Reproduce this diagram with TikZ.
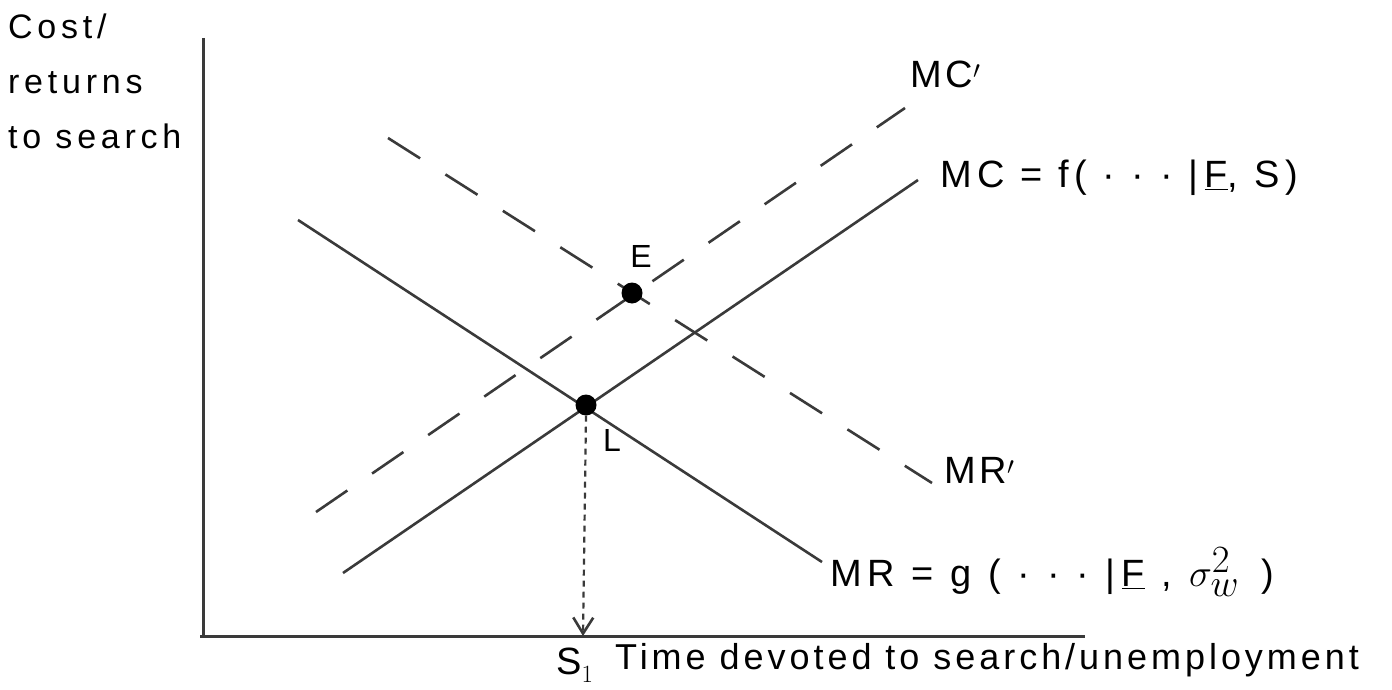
\documentclass[tikz,border=0pt]{standalone}
\usepackage{fontspec}
\setmainfont{Liberation Sans}
\usetikzlibrary{arrows.meta}
\definecolor{ink}{HTML}{3A3A3A}
\newcommand{\lsp}[1]{\addfontfeature{LetterSpace=#1}}
\begin{document}
\begin{tikzpicture}[x=1pt,y=-1pt,
  curve/.style={draw=ink,line width=2.6pt},
  dcurve/.style={curve,dash pattern=on 38pt off 30pt},
  axisline/.style={draw=ink,line width=3pt},
  lbl/.style={text=black,inner sep=0pt,font=\fontsize{38}{44}\selectfont},
  dotpt/.style={circle,fill=black,minimum size=21pt,inner sep=0pt}]
\useasboundingbox (0,0) rectangle (1392,690);
% axes
\coordinate (yt) at (203,38);
\coordinate (o) at (203,638);
\coordinate (xe) at (1085,636);
\draw[axisline] (yt) -- (o);
\draw[axisline] (200,636) -- (xe);
% curves
\coordinate (mc1) at (343,573); \coordinate (mc2) at (918,180);
\coordinate (mr1) at (298,220); \coordinate (mr2) at (822,562);
\coordinate (mcp1) at (316,512); \coordinate (mcp2) at (905,108);
\coordinate (mrp1) at (388,138); \coordinate (mrp2) at (932,483);
\draw[curve] (mc1) -- (mc2);
\draw[curve] (mr1) -- (mr2);
\draw[dcurve] (mcp1) -- (mcp2);
\draw[dcurve] (mrp1) -- (mrp2);
% points
\node[dotpt] (L) at (586,405) {};
\node[dotpt] (E) at (632,293) {};
\coordinate (s1) at (583,636);
\draw[draw=ink,line width=2.2pt,dash pattern=on 6pt off 5pt,-{Straight Barb[length=16pt,width=20pt,line width=2.6pt]}] (L.south) -- (s1);
% labels
\node[lbl,anchor=west] (lmcp) at (910,74) {\lsp{10}MC$'$};
\node[lbl,anchor=west] (lmc) at (940,178) {\lsp{14}MC = f( · · · |\,\underline{F}, S)};
\node[lbl,anchor=west] (lmrp) at (944,470) {\lsp{10}MR$'$};
\node[lbl,anchor=west] (lmr) at (830,572) {\lsp{16}MR = g ( · · · |\,\underline{F} , \scalebox{1.55}{$\sigma^2_w$}\hspace{22pt})};
\node[lbl,font=\fontsize{32}{38}\selectfont] (le) at (641,256) {E};
\node[lbl,font=\fontsize{32}{38}\selectfont] (ll) at (612,440) {L};
\node[lbl,anchor=west] (ls) at (556,665) {S$_1$};
\node[lbl,anchor=west,font=\fontsize{36}{40}\selectfont] (lx) at (615,660) {\lsp{11}Time devoted to search/unemployment};
\node[lbl,anchor=north west,align=left,font=\fontsize{34}{55}\selectfont] (ly) at (8,14) {\lsp{14}Cost/\\\lsp{14}returns\\\lsp{14}to search};
\end{tikzpicture}
\end{document}
